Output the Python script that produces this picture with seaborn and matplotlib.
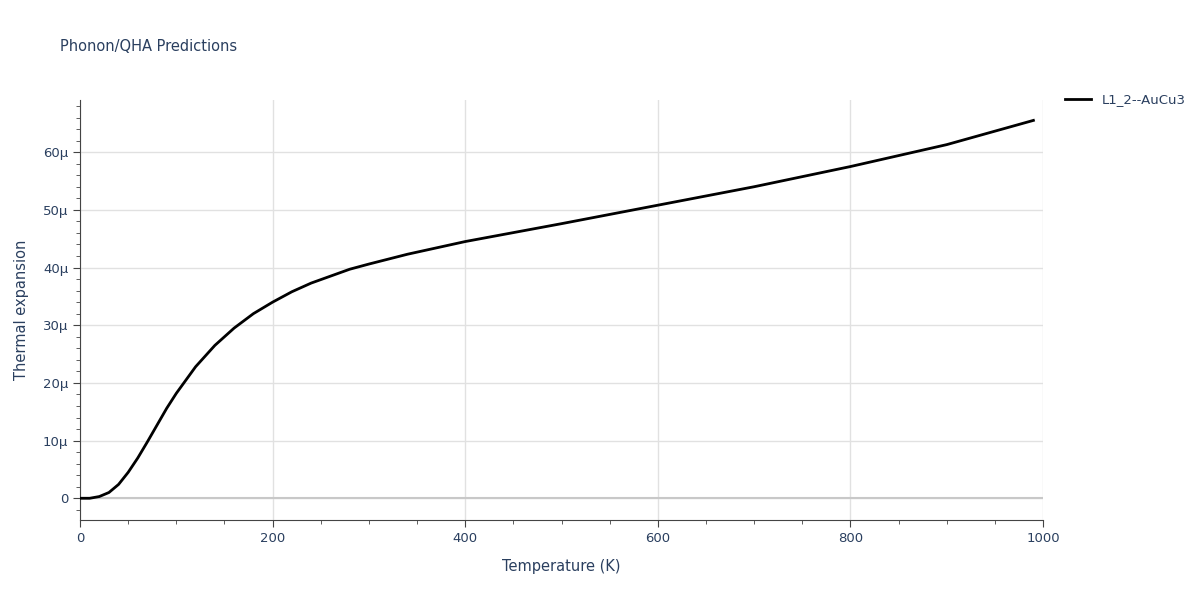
import matplotlib

matplotlib.use("Agg")
import matplotlib.pyplot as plt
import seaborn as sns
from matplotlib.ticker import FuncFormatter, MultipleLocator

temperature = [0, 10, 20, 30, 40, 50, 60, 70, 80, 90, 100, 120, 140, 160, 180, 200,
               220, 240, 260, 280, 300, 340, 400, 500, 600, 700, 800, 900, 990]
expansion = [0, 0, 0.3, 1.0, 2.4, 4.5, 7.0, 9.8, 12.7, 15.6, 18.2, 22.8, 26.5, 29.5,
             32.0, 34.0, 35.8, 37.3, 38.5, 39.7, 40.6, 42.3, 44.5, 47.6, 50.8, 54.0,
             57.5, 61.3, 65.5]
series_name = "L1_2--AuCu3"

TEXT = "#2a3f5f"
GRID = "#e1e1e1"

fig = plt.figure(figsize=(12, 6), dpi=100)
ax = fig.add_axes([0.0667, 0.133, 0.8025, 0.70])

ax.axhline(0, color="#c8c8c8", lw=1.5, zorder=1)
sns.lineplot(x=temperature, y=expansion, ax=ax, color="black", lw=2, label=series_name, zorder=3)

ax.set_xlim(0, 1000)
ax.set_ylim(-3.8, 69)
ax.xaxis.set_major_locator(MultipleLocator(200))
ax.xaxis.set_minor_locator(MultipleLocator(50))
ax.yaxis.set_major_locator(MultipleLocator(10))
ax.yaxis.set_minor_locator(MultipleLocator(2))
ax.yaxis.set_major_formatter(FuncFormatter(lambda v, _: "0" if v == 0 else f"{v:.0f}μ"))
ax.grid(True, which="major", color=GRID, lw=1)
ax.set_axisbelow(True)
ax.tick_params(which="both", colors="#444444", labelcolor=TEXT, labelsize=9.5)
ax.tick_params(which="major", length=5)
ax.tick_params(which="minor", length=3)
for side in ["top", "right"]:
    ax.spines[side].set_visible(False)
for side in ["left", "bottom"]:
    ax.spines[side].set_color("#444444")

ax.set_xlabel("Temperature (K)", color=TEXT, fontsize=10.5, labelpad=10)
ax.set_ylabel("Thermal expansion", color=TEXT, fontsize=10.5, labelpad=10)
fig.text(0.05, 0.915, "Phonon/QHA Predictions", color=TEXT, fontsize=10.5)

ax.legend(loc="upper left", bbox_to_anchor=(1.01, 1.045), frameon=False,
          labelcolor=TEXT, fontsize=9.5, handlelength=2)

fig.savefig("out.png", dpi=100)
